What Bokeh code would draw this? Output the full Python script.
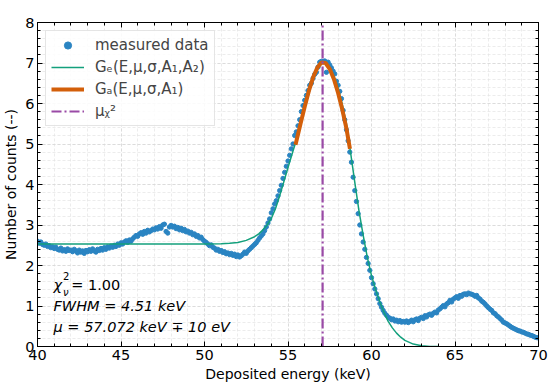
import numpy as np
from bokeh.plotting import figure
from bokeh.models import (Legend, LegendItem, Label, LinearAxis,
                          SingleIntervalTicker, Range1d, ColumnDataSource,
                          CustomJSTickFormatter)
from bokeh.embed import file_html
from bokeh.resources import INLINE

# ---------------- data (counts in units of 10^3) ----------------
energy_start, energy_stop, n_channels = 40.0, 70.0, 301
counts = [
    2.60, 2.55, 2.58, 2.52, 2.50, 2.53, 2.47, 2.49, 2.44, 2.46,
    2.42, 2.45, 2.40, 2.38, 2.43, 2.36, 2.39, 2.35, 2.41, 2.37,
    2.38, 2.34, 2.40, 2.36, 2.31, 2.38, 2.33, 2.36, 2.30, 2.37,
    2.34, 2.39, 2.35, 2.41, 2.36, 2.33, 2.40, 2.37, 2.42, 2.38,
    2.44, 2.40, 2.46, 2.43, 2.48, 2.45, 2.50, 2.47, 2.53, 2.50,
    2.56, 2.53, 2.58, 2.61, 2.57, 2.63, 2.60, 2.66, 2.70, 2.74,
    2.72, 2.78, 2.81, 2.77, 2.84, 2.80, 2.87, 2.83, 2.86, 2.90,
    2.88, 2.93, 2.90, 2.96, 2.92, 3.00, 3.02, 2.84, 2.80, 2.95,
    2.99, 2.95, 2.97, 2.91, 2.94, 2.88, 2.92, 2.86, 2.89, 2.83,
    2.85, 2.80, 2.82, 2.76, 2.78, 2.72, 2.74, 2.68, 2.70, 2.64,
    2.60, 2.57, 2.53, 2.49, 2.51, 2.45, 2.43, 2.38, 2.40, 2.35,
    2.37, 2.32, 2.34, 2.29, 2.31, 2.27, 2.30, 2.25, 2.28, 2.22,
    2.26, 2.21, 2.24, 2.28, 2.33, 2.30, 2.36, 2.40, 2.44, 2.48,
    2.52, 2.56, 2.62, 2.68, 2.73, 2.78, 2.86, 2.95, 3.05, 3.15,
    3.30, 3.40, 3.52, 3.60, 3.72, 3.85, 3.98, 4.15, 4.30, 4.45,
    4.58, 4.72, 4.88, 5.00, 5.21, 5.30, 5.45, 5.60, 5.80, 5.95,
    6.08, 6.20, 6.32, 6.45, 6.50, 6.62, 6.72, 6.77, 6.90, 7.02,
    7.04, 7.03, 7.05, 6.77, 7.02, 6.95, 6.88, 6.80, 6.73, 6.55,
    6.45, 6.30, 6.12, 5.83, 5.60, 5.35, 5.08, 4.80, 4.55, 4.18,
    3.85, 3.58, 3.28, 3.00, 2.78, 2.58, 2.40, 2.20, 2.05, 1.88,
    1.70, 1.55, 1.42, 1.30, 1.18, 1.06, 0.97, 0.89, 0.82, 0.77,
    0.72, 0.70, 0.66, 0.68, 0.63, 0.65, 0.61, 0.64, 0.60, 0.62,
    0.60, 0.63, 0.59, 0.62, 0.65, 0.61, 0.66, 0.68, 0.64, 0.70,
    0.72, 0.69, 0.76, 0.73, 0.78, 0.80, 0.77, 0.82, 0.85, 0.83,
    0.90, 0.93, 0.97, 1.01, 0.98, 1.05, 1.08, 1.14, 1.10, 1.17,
    1.20, 1.23, 1.19, 1.26, 1.24, 1.29, 1.30, 1.28, 1.32, 1.30,
    1.29, 1.27, 1.24, 1.26, 1.20, 1.17, 1.12, 1.09, 1.05, 1.00,
    0.96, 0.92, 0.89, 0.83, 0.81, 0.76, 0.73, 0.69, 0.65, 0.60,
    0.58, 0.56, 0.53, 0.50, 0.47, 0.45, 0.43, 0.41, 0.39, 0.38,
    0.36, 0.35, 0.33, 0.31, 0.30, 0.28, 0.27, 0.25, 0.23, 0.22,
    0.21,
]
energy = np.linspace(energy_start, energy_stop, n_channels)

# G_e fit curve
ge_x = [40.0, 42.0, 44.0, 46.0, 48.0, 50.0, 51.0, 51.5, 52.0, 52.5,
        53.0, 53.25, 53.5, 53.75, 54.0, 54.25, 54.5, 54.75, 55.0, 55.25,
        55.5, 55.75, 56.0, 56.25, 56.5, 56.75, 57.0, 57.25, 57.5, 57.75,
        58.0, 58.25, 58.5, 58.75, 59.0, 59.25, 59.5, 59.75, 60.0, 60.25,
        60.5, 60.75, 61.0, 61.25, 61.5, 61.75, 62.0, 62.5, 63.0, 63.5, 64.0]
ge_y = [2.53, 2.53, 2.53, 2.53, 2.53, 2.53, 2.54, 2.55, 2.57, 2.62,
        2.71, 2.78, 2.88, 3.00, 3.16, 3.40, 3.72, 4.07, 4.42, 4.76,
        5.10, 5.52, 5.95, 6.30, 6.60, 6.85, 7.00, 7.00, 6.88, 6.68,
        6.38, 5.98, 5.50, 4.78, 4.05, 3.35, 2.75, 2.20, 1.75, 1.40,
        1.10, 0.84, 0.62, 0.46, 0.33, 0.23, 0.15, 0.06, 0.02, 0.0, 0.0]

# G_a fit curve
ga_x = [55.45, 55.75, 56.0, 56.25, 56.5, 56.75, 57.0, 57.25, 57.5, 57.75,
        58.0, 58.25, 58.5, 58.71]
ga_y = [4.98, 5.50, 5.92, 6.31, 6.64, 6.88, 7.01, 7.00, 6.85, 6.60,
        6.26, 5.85, 5.38, 4.88]

mu_chi2 = 57.072

x_lo, x_hi = 40, 70
y_lo, y_hi = 0, 8
x_ticks_interval = 5
y_ticks_interval = 1

# ---------------- styling ----------------
FONT = "DejaVu Sans"
BLUE = "#2a84c2"
TEAL = "#13a07c"
ORANGE = "#d35f0a"
PURPLE = "#9a4aa6"

p = figure(width=550, height=388, x_range=Range1d(x_lo, x_hi),
           y_range=Range1d(y_lo, y_hi),
           output_backend="svg", toolbar_location=None,
           min_border_left=37, min_border_right=12, min_border_top=22,
           min_border_bottom=42)
p.outline_line_color = "black"
p.outline_line_width = 1

xt = SingleIntervalTicker(interval=x_ticks_interval, num_minor_ticks=5)
yt = SingleIntervalTicker(interval=y_ticks_interval, num_minor_ticks=5)

for ax in (p.xaxis[0], p.yaxis[0]):
    ax.major_tick_in = 5
    ax.major_tick_out = 0
    ax.minor_tick_in = 3
    ax.minor_tick_out = 0
    ax.major_label_text_font = FONT
    ax.major_label_text_font_size = "14.5px"
    ax.major_label_text_color = "black"
    ax.axis_label_text_font = FONT
    ax.axis_label_text_font_size = "14px"
    ax.axis_label_text_font_style = "normal"
    ax.axis_label_text_color = "black"
    ax.axis_line_color = "black"
    ax.major_tick_line_color = "black"
    ax.minor_tick_line_color = "black"
p.xaxis[0].ticker = xt
p.yaxis[0].ticker = yt
p.xaxis[0].axis_label = "Deposited energy (keV)"
p.yaxis[0].axis_label = "Number of counts (--)"
p.xaxis[0].major_label_standoff = 3
p.xaxis[0].axis_label_standoff = 3
p.yaxis[0].major_label_standoff = 3
p.yaxis[0].axis_label_standoff = 3

blank = CustomJSTickFormatter(code="return ''")
for loc in ("above", "right"):
    ax = LinearAxis(ticker=SingleIntervalTicker(
        interval=x_ticks_interval if loc == "above" else y_ticks_interval,
        num_minor_ticks=5), formatter=blank)
    ax.major_tick_in = 5
    ax.major_tick_out = 0
    ax.minor_tick_in = 3
    ax.minor_tick_out = 0
    ax.major_label_standoff = 0
    ax.axis_line_color = "black"
    p.add_layout(ax, loc)

for g in (p.xgrid[0], p.ygrid[0]):
    g.grid_line_color = "#d8d8d8"
    g.grid_line_dash = "3 2"
    g.grid_line_width = 0.8
    g.minor_grid_line_color = "#e4e4e4"
    g.minor_grid_line_dash = "3 2"
    g.minor_grid_line_width = 0.7
p.xgrid[0].ticker = xt
p.ygrid[0].ticker = yt

# ---------------- glyphs ----------------
src = ColumnDataSource(dict(x=energy, y=counts))
r_data = p.scatter("x", "y", source=src, size=4.3, color=BLUE, line_color=BLUE)
r_ge = p.line(ge_x, ge_y, line_color=TEAL, line_width=1.5)
r_ga = p.line(ga_x, ga_y, line_color=ORANGE, line_width=4)
r_mu = p.line(x=[mu_chi2, mu_chi2], y=[y_lo, y_hi], line_color=PURPLE,
              line_width=2.2, line_dash="10 3 2 3")

legend = Legend(items=[
    LegendItem(label="measured data", renderers=[r_data]),
    LegendItem(label="Gₑ(E,μ,σ,A₁,A₂)", renderers=[r_ge]),
    LegendItem(label="Gₐ(E,μ,σ,A₁)", renderers=[r_ga]),
    LegendItem(label="μᵪ²", renderers=[r_mu]),
], location="top_left")
legend.label_text_font = FONT
legend.label_text_font_size = "15px"
legend.glyph_width = 33
legend.glyph_height = 18
legend.label_height = 18
legend.label_standoff = 11
legend.spacing = 4
legend.padding = 5
legend.margin = 8
legend.border_line_color = "#cccccc"
legend.border_line_width = 1
legend.background_fill_color = "white"
legend.background_fill_alpha = 0.85
p.add_layout(legend)

# ---------------- annotations ----------------
def lab(x, y, text, size="14.5px", style="italic", baseline="middle"):
    p.add_layout(Label(x=x, y=y, text=text, text_font=FONT, text_font_size=size,
                       text_font_style=style, text_baseline=baseline,
                       text_color="black"))

lab(40.96, 1.53, "χ")
lab(41.52, 1.75, "2", size="10px", style="normal")
lab(41.52, 1.34, "ν", size="10px")
lab(42.02, 1.53, "= 1.00", style="normal")
lab(40.96, 0.99, "FWHM = 4.51 keV")
lab(40.96, 0.47, "μ = 57.072 keV ∓ 10 eV")
lab(40.1, 8.06, "×10³", size="15px", style="normal", baseline="bottom")

open("out.html", "w").write(file_html(p, INLINE))
